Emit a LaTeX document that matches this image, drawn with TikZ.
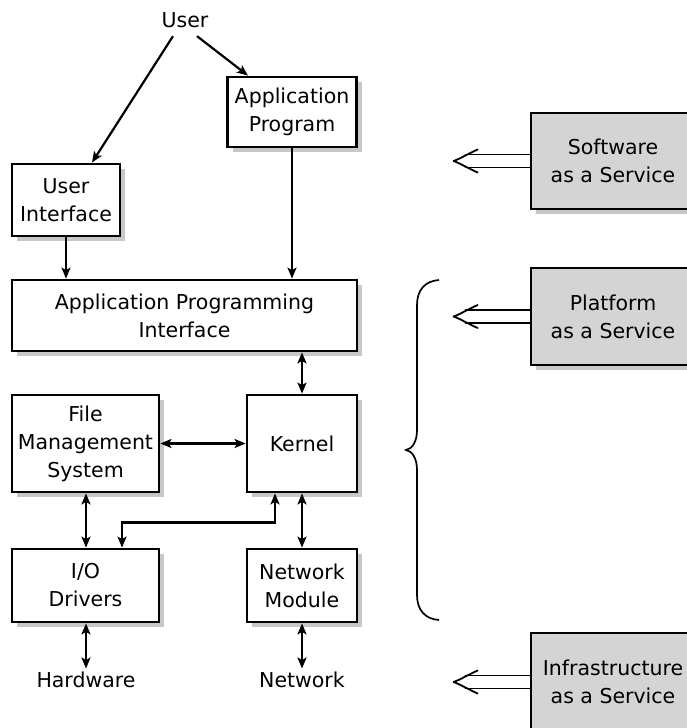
\documentclass[tikz,border=0pt]{standalone}
\usepackage{fontspec}
\setmainfont{DejaVu Sans}
\usetikzlibrary{arrows.meta,shadows}
\tikzset{
  box/.style={draw,line width=2.8pt,fill=white,align=center,inner sep=2pt,
    drop shadow={shadow xshift=5pt,shadow yshift=-5pt,fill=black!22,opacity=1}},
  svcbox/.style={box,fill=black!17,minimum width=164pt},
  link/.style={line width=2.2pt},
  hollow/.style={line width=1.8pt,line cap=round,line join=round}
}
\begin{document}
\begin{tikzpicture}[x=1pt,y=-1pt,>={Stealth[length=11pt,width=9pt,inset=2.5pt]},font=\fontsize{20.5}{28}\selectfont]
\useasboundingbox (0,0) rectangle (687,728);
% left column
\node (user) at (185,20) {User};
\node[box,minimum width=129pt,minimum height=70pt] (app) at (292,112) {Application\\Program};
\node[box,minimum width=108pt,minimum height=72pt] (ui) at (66,200) {User\\Interface};
\node[box,minimum width=345pt,minimum height=71pt] (api) at (184.5,315.5) {Application Programming\\Interface};
\node[box,minimum width=147pt,minimum height=97pt] (fms) at (85.5,443.5) {File\\Management\\System};
\node[box,minimum width=110pt,minimum height=97pt] (kernel) at (302,443.5) {Kernel};
\node[box,minimum width=147pt,minimum height=73pt] (io) at (85.5,585.5) {I/O\\Drivers};
\node[box,minimum width=110pt,minimum height=73pt] (net) at (302,585.5) {Network\\Module};
\node (hw) at (86,680) {Hardware};
\node (nw) at (302,680) {Network};
% services
\node[svcbox,minimum height=96pt] (saas) at (613,161) {Software\\as a Service};
\node[svcbox,minimum height=97pt] (paas) at (613,316.5) {Platform\\as a Service};
\node[svcbox,minimum height=98pt] (iaas) at (613,682) {Infrastructure\\as a Service};
% connectors
\draw[link,->] ([xshift=-12pt,yshift=-5pt]user.south) -- ([xshift=26pt]ui.north);
\draw[link,->] ([xshift=12pt,yshift=-5pt]user.south) -- ([xshift=-44pt]app.north);
\draw[link,->] (ui.south) -- (ui.south |- api.north);
\draw[link,->] (app.south) -- (app.south |- api.north);
\draw[link,<->] (kernel.north |- api.south) -- (kernel.north);
\draw[link,<->] (fms.east) -- (kernel.west);
\draw[link,<->] ([xshift=0.5pt]fms.south) -- ([xshift=0.5pt]io.north);
\draw[link,<->] (kernel.south) -- (net.north);
\draw[link,<->] ([xshift=-27pt]kernel.south) -- ++(0,29) -| ([xshift=36.5pt]io.north);
\draw[link,<->] ([xshift=0.5pt]io.south) -- (hw.north);
\draw[link,<->] (net.south) -- (nw.north);
% hollow arrows
\foreach \s in {saas,paas,iaas}
{
\draw[hollow] ([shift={(0,-6.5)}]\s.west) -- ++(-64,0);
\draw[hollow] ([shift={(0,6.5)}]\s.west) -- ++(-64,0);
\draw[hollow] ([shift={(-52,-11.5)}]\s.west) .. controls ([shift={(-64,-6)}]\s.west) and ([shift={(-70,-2)}]\s.west) .. ([shift={(-76,0)}]\s.west)
  .. controls ([shift={(-70,2)}]\s.west) and ([shift={(-64,6)}]\s.west) .. ([shift={(-52,11.5)}]\s.west);
}
% brace
\draw[line width=1.7pt] (439,280) .. controls (425,281) and (417,290) .. (417,305) -- (417,430)
  .. controls (417,442) and (412,449) .. (406,450) .. controls (412,451) and (417,458) .. (417,470)
  -- (417,595) .. controls (417,610) and (425,619) .. (439,620);
\end{tikzpicture}
\end{document}
